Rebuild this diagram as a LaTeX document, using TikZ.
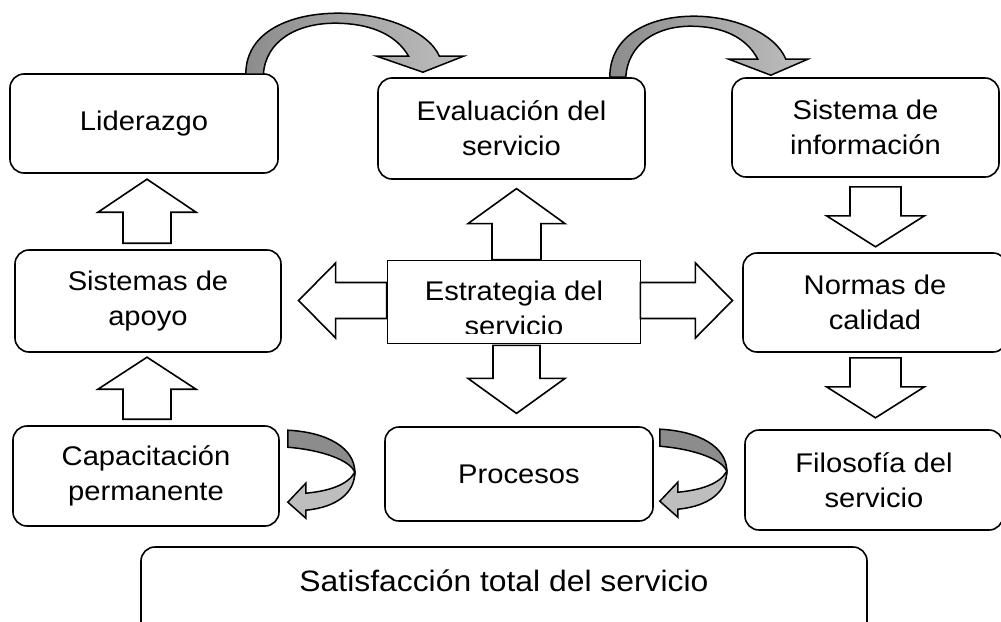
\documentclass[tikz,border=0pt]{standalone}
\usepackage{fontspec}
\setmainfont[FakeStretch=1.08]{Liberation Sans}
\usetikzlibrary{calc,positioning}

\definecolor{grisosc}{RGB}{140,140,140}
\definecolor{grisclaro}{RGB}{190,190,190}

\tikzset{
  pics/flecha/.style args={#1/#2/#3/#4}{code={
    \draw[line width=1.6pt,fill=white,line join=miter]
      (0,-#3) -- (#1-#2,-#3) -- (#1-#2,-#4) -- (#1,0) -- (#1-#2,#4) -- (#1-#2,#3) -- (0,#3) -- cycle;
  }},
  pics/curva/.style={code={
    \draw[line width=1.5pt,left color=grisosc,right color=grisclaro]
      (0,0) .. controls (0,-43) and (41,-61) .. (84,-61)
      .. controls (126,-61) and (166,-43) .. (176,-18)
      -- (198,-18) -- (161,-2) -- (119,-18) -- (148,-18)
      .. controls (136,-41) and (111,-51) .. (81,-51)
      .. controls (46,-51) and (18,-33) .. (16,0) -- cycle;
  }},
  pics/vuelta/.style={code={
    \draw[line width=1.5pt,fill=grisosc]
      (0,0) .. controls (40,2) and (67,18) .. (67,42)
      .. controls (62,30) and (35,20) .. (0,17) -- cycle;
    \draw[line width=1.5pt,fill=grisclaro,line join=miter]
      (67,42) .. controls (67,62) and (50,77) .. (18,80)
      -- (18,88) -- (0,72) -- (18,53) -- (18,63)
      .. controls (40,61) and (60,55) .. (67,42) -- cycle;
  }}
}

\begin{document}
\begin{tikzpicture}[x=1pt,y=-1pt]
\tikzstyle{caja} = [draw, line width=1.6pt, rounded corners=14pt, align=center,
  inner sep=0pt, font=\fontsize{27}{35}\selectfont]
\useasboundingbox (0,0) rectangle (1001,621);
\clip (0,0) rectangle (1001,621);

% fila superior
\node[caja, minimum width=268pt, minimum height=99pt] (liderazgo) at (144,123.5) {Liderazgo};
\node[caja, minimum width=267pt, minimum height=101pt] (evaluacion) at (511.5,128.5) {Evaluación del\\servicio};
\node[caja, minimum width=267pt, minimum height=99pt] (sistema) at (865.5,127.5) {Sistema de\\información};

% fila del medio
\node[caja, minimum width=266pt, minimum height=102pt] (apoyo) at (148,301) {Sistemas de\\apoyo};
\node[draw, line width=0.8pt, minimum width=253pt, minimum height=83pt] (estrategia) at (513.5,301.5) {};
\begin{scope}
  \clip (estrategia.north west) rectangle ($(estrategia.south east)+(0,-10)$);
  \node[anchor=base, font=\fontsize{27}{35}\selectfont] (estrat1) at (514,300) {Estrategia del};
  \node[anchor=base, font=\fontsize{27}{35}\selectfont] (estrat2) at (514,335) {servicio};
\end{scope}
\node[caja, minimum width=264pt, minimum height=99pt] (normas) at (875,302.5) {Normas de\\calidad};

% fila inferior
\node[caja, minimum width=266pt, minimum height=100pt] (capacitacion) at (146,476) {Capacitación\\permanente};
\node[caja, minimum width=268pt, minimum height=94pt] (procesos) at (519,474) {Procesos};
\node[caja, minimum width=258pt, minimum height=100pt] (filosofia) at (874,480) {Filosofía del\\servicio};

\node[caja, minimum width=726pt, minimum height=100pt] (satisfaccion) at (504,597) {};
\node[font=\fontsize{29.5}{35}\selectfont] (satis) at (504,581) {Satisfacción total del servicio};

% flechas de bloque
\pic[rotate=90] at ($(apoyo.north)+(-1,-6)$) {flecha=64/33/24/49};
\pic[rotate=90] at ($(capacitacion.north)+(1,-6)$) {flecha=62/32/24/49};
\pic[rotate=90] at ($(estrategia.north)+(3,0)$) {flecha=71/35/24.5/48.5};
\pic[rotate=-90] at ($(estrategia.south)+(3,2)$) {flecha=68/35/23.5/48.5};
\pic[rotate=180] at ($(estrategia.west)+(0,-1)$) {flecha=88/37/18/37.5};
\pic at ($(estrategia.east)+(0,-1)$) {flecha=92/37/18/37.5};
\pic[rotate=-90] at ($(sistema.south)+(10,9)$) {flecha=60/31/25.5/49};
\pic[rotate=-90] at ($(normas.south)+(0.5,5)$) {flecha=60/31/25.5/49};

% flechas curvas
\pic[xscale=1.1] at ($(liderazgo.north east)+(-33,1)$) {curva};
\pic at ($(evaluacion.north east)+(-36,0)$) {curva};
\pic at ($(capacitacion.north east)+(8,5)$) {vuelta};
\pic at ($(procesos.north east)+(6,3)$) {vuelta};
\end{tikzpicture}
\end{document}
